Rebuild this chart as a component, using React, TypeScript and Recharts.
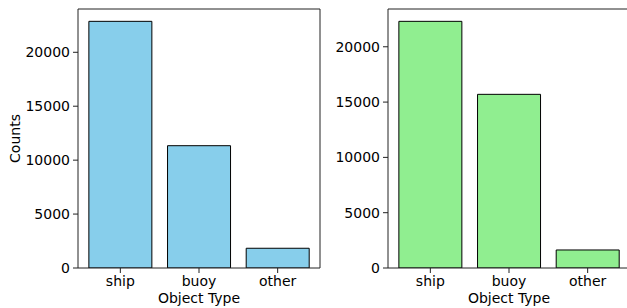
import { BarChart, Bar, XAxis, YAxis } from 'recharts';

const categories = ['ship', 'buoy', 'other'];
const leftCounts = [22870, 11340, 1830];
const rightCounts = [22300, 15700, 1630];
const yTicks = [0, 5000, 10000, 15000, 20000];

const AXIS = '#222';
const TXT = { fill: '#000', fontSize: 14 };

interface PanelProps { counts: number[]; color: string; yLabel?: string; }

function Panel({ counts, color, yLabel }: PanelProps) {
  const data = categories.map((name, i) => ({ name, count: counts[i] }));
  // matplotlib-style 5% headroom above the tallest bar
  const max = Math.max(...counts) * 1.05;

  return (
    <BarChart
      width={321}
      height={308}
      data={data}
      margin={{ top: 8, right: 0, bottom: 0, left: 0 }}
      barCategoryGap="10%"
    >
      <XAxis
        xAxisId="b"
        dataKey="name"
        interval={0}
        padding={{ left: 3, right: 3 }}
        height={40}
        tickSize={5}
        tickMargin={3}
        tick={TXT}
        stroke={AXIS}
        label={{ value: 'Object Type', position: 'insideBottom', offset: 5, ...TXT }}
      />
      <XAxis xAxisId="t" dataKey="name" orientation="top" height={1} tick={false} tickLine={false} stroke={AXIS} />
      <YAxis
        yAxisId="l"
        width={78}
        domain={[0, max]}
        ticks={yTicks}
        allowDataOverflow
        tickSize={5}
        tickMargin={3}
        tick={TXT}
        stroke={AXIS}
        label={yLabel ? { value: yLabel, angle: -90, position: 'center', dx: -24, ...TXT } : undefined}
      />
      <YAxis yAxisId="r" orientation="right" width={1} domain={[0, max]} tick={false} tickLine={false} stroke={AXIS} />
      <Bar dataKey="count" xAxisId="b" yAxisId="l" fill={color} stroke="#000" strokeWidth={1} isAnimationActive={false} />
    </BarChart>
  );
}

export default function App() {
  return (
    <div
      style={{
        position: 'absolute', left: 0, top: 0, width: 627, height: 308,
        overflow: 'hidden', background: '#fff', fontFamily: '"DejaVu Sans", sans-serif',
      }}
    >
      <div style={{ position: 'absolute', left: 0, top: 0 }}>
        <Panel counts={leftCounts} color="#87CEEB" yLabel="Counts" />
      </div>
      <div style={{ position: 'absolute', left: 310, top: 0 }}>
        <Panel counts={rightCounts} color="#90EE90" />
      </div>
    </div>
  );
}
